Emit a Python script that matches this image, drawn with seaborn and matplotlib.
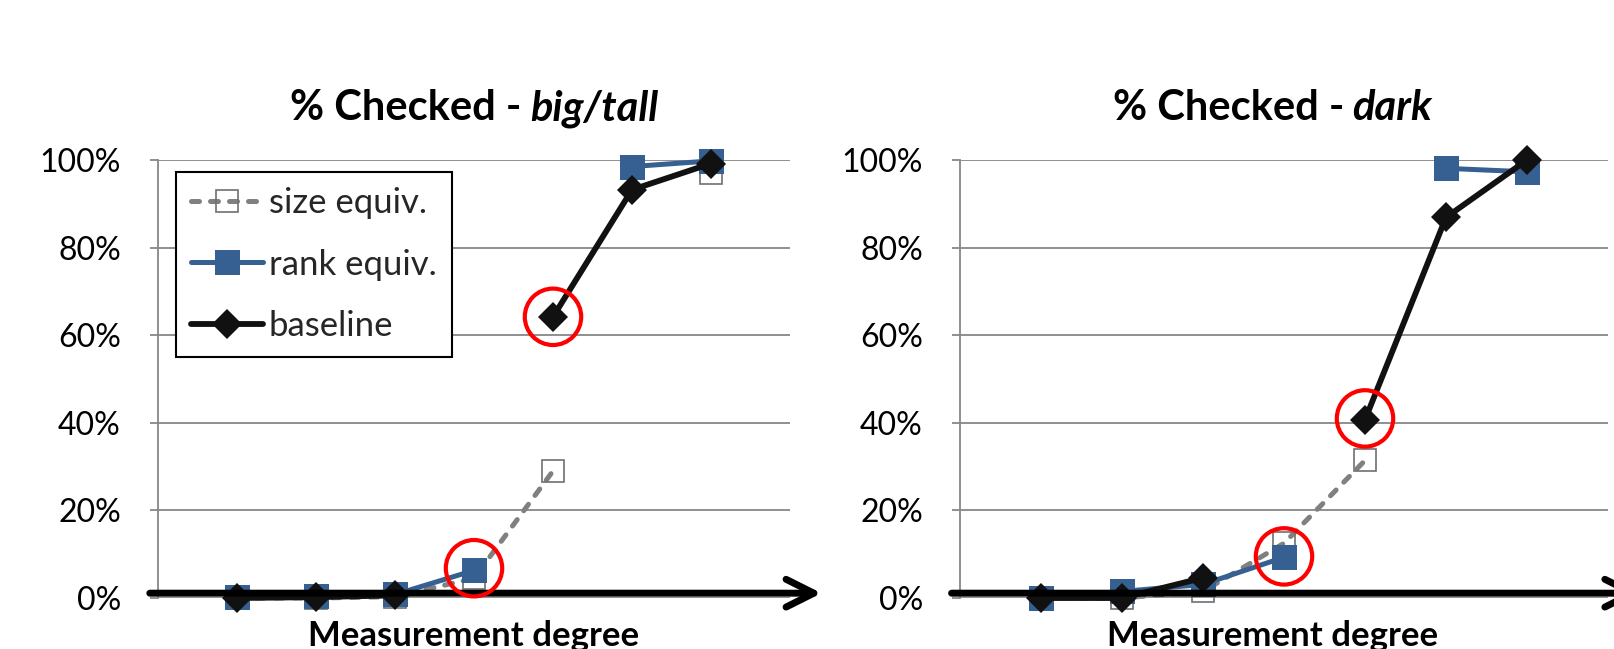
import numpy as np
import pandas as pd
import matplotlib.pyplot as plt
import matplotlib.ticker as mticker
from matplotlib.lines import Line2D
from matplotlib.offsetbox import TextArea, HPacker, AnnotationBbox
import seaborn as sns

# ── data (percent checked) ──────────────────────────────────────
nan = np.nan
degree = [1, 2, 3, 4, 5, 6, 7]

big_size = [0, 0, 0.3, 4.5, 29.0, nan, 97.0]
big_rank = [0.3, 0.5, 0.8, 6.3, nan, 98.5, 99.8]
big_base = [0, 0.2, 0.6, nan, 64.2, 93.2, 99.2]
big_circle_x = [4, 5]
big_circle_y = [6.8, 64.2]

dark_size = [0, 0, 1.5, 12.5, 31.4, nan, nan]
dark_rank = [0, 1.5, 3.1, 9.3, nan, 98.1, 97.3]
dark_base = [0, 0, 4.6, nan, 40.7, 86.9, 100.0]
dark_circle_x = [4, 5]
dark_circle_y = [9.5, 41.0]

series_names = ['size equiv.', 'rank equiv.', 'baseline']
y_ticks = [0, 20, 40, 60, 80, 100]

# ── styles ───────────────────────────────────────────────────────
GRID = '#878787'
BLUE = '#376092'
BLACK = '#111111'

size_style = dict(color='#808080', linewidth=3.6, linestyle=(0, (1.6, 2.2)),
                  dash_capstyle='round', marker='s', markersize=15.5,
                  markerfacecolor='none', markeredgecolor='#707070',
                  markeredgewidth=1.2)
rank_style = dict(color=BLUE, linewidth=3.6, marker='s', markersize=18,
                  markerfacecolor=BLUE, markeredgecolor=BLUE, markeredgewidth=0)
base_style = dict(color=BLACK, linewidth=4.2, marker='D', markersize=15.5,
                  markerfacecolor=BLACK, markeredgecolor=BLACK, markeredgewidth=0)
styles = [size_style, rank_style, base_style]


def to_frame(values):
    # split at missing points so the lines show gaps
    df = pd.DataFrame({'degree': degree, 'pct': values})
    df['seg'] = df['pct'].isna().cumsum()
    return df.dropna()


sns.set_theme(style='white')
plt.rcParams['font.family'] = ['Lato', 'DejaVu Sans']

fig = plt.figure(figsize=(16.14, 6.49), dpi=100)
ax_left = fig.add_axes([158 / 1614, 1 - 598 / 649, 632 / 1614, 438 / 649])
ax_right = fig.add_axes([960 / 1614, 1 - 598 / 649, 648 / 1614, 438 / 649])

# (axes, italic word, series, circles, label/title x position)
panels = [
    (ax_left, 'big/tall', [big_size, big_rank, big_base], big_circle_x, big_circle_y, 0.5),
    (ax_right, 'dark', [dark_size, dark_rank, dark_base], dark_circle_x, dark_circle_y, 0.482),
]

for ax, word, series, cx, cy, xmid in panels:
    for values, st, z in zip(series, styles, [2, 3, 4]):
        sns.lineplot(data=to_frame(values), x='degree', y='pct', units='seg',
                     estimator=None, ax=ax, zorder=z, clip_on=False, **st)

    # red highlight circles
    sns.scatterplot(x=cx, y=cy, ax=ax, marker='o', s=1650, facecolors='none',
                    edgecolors='#ff0000', linewidth=3, zorder=6, clip_on=False)

    ax.set_xlim(0, 8)
    ax.set_ylim(0, 100)
    ax.set_xticks([])
    ax.set_yticks(y_ticks)
    ax.yaxis.set_major_formatter(mticker.FuncFormatter(lambda v, _: f'{v:.0f}%'))
    ax.tick_params(axis='y', left=True, length=5.8, width=1.3, color=GRID,
                   pad=21, labelsize=23, labelcolor='black')
    ax.grid(axis='y', color=GRID, linewidth=1.3)
    ax.set_axisbelow(True)
    for side in ['top', 'right', 'bottom']:
        ax.spines[side].set_visible(False)
    ax.spines['left'].set_color(GRID)
    ax.spines['left'].set_linewidth(1.3)
    ax.set_ylabel('')
    ax.set_xlabel('Measurement degree', fontsize=25, fontweight='bold',
                  labelpad=16, color='black')
    ax.xaxis.label.set_x(xmid)

    # x axis drawn as a thick arrow
    ax.annotate('', xy=(1.05, 0.011), xytext=(-0.013, 0.011),
                xycoords='axes fraction', annotation_clip=False, zorder=5,
                arrowprops=dict(arrowstyle='->,head_length=1.0,head_width=0.5',
                                lw=5, color='black', mutation_scale=20,
                                shrinkA=0, shrinkB=0))

    # title: bold + bold italic part
    t1 = TextArea('% Checked -', textprops=dict(fontsize=30, fontweight='bold', color='black'))
    t2 = TextArea(word, textprops=dict(fontsize=30, fontweight='bold',
                                       fontstyle='italic', color='black'))
    pack = HPacker(children=[t1, t2], align='baseline', pad=0, sep=6)
    ab = AnnotationBbox(pack, (xmid, 1.118), xycoords='axes fraction',
                        box_alignment=(0.5, 0.5), frameon=False, pad=0,
                        annotation_clip=False)
    ax.add_artist(ab)

handles = [Line2D([], [], **st) for st in styles]
ax_left.legend(handles, series_names, loc='upper left',
               bbox_to_anchor=(0.028, 0.973), borderaxespad=0, fontsize=25,
               frameon=True, fancybox=False, edgecolor='black', framealpha=1,
               borderpad=0.44, labelspacing=0.85, handlelength=2.07,
               handletextpad=0.17)
ax_left.get_legend().get_frame().set_linewidth(1.5)

plt.savefig('out.png', dpi=100)
